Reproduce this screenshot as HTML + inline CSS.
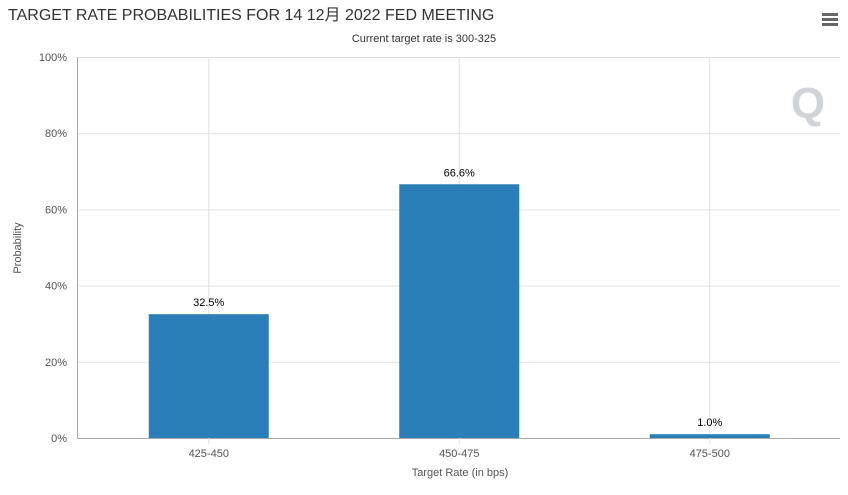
<!DOCTYPE html>
<html><head><meta charset="utf-8"><style>
body{margin:0;background:#fff;width:848px;height:490px;overflow:hidden;font-family:"Liberation Sans","Noto Sans CJK SC",sans-serif}
svg text{font-family:"Liberation Sans","Noto Sans CJK SC",sans-serif}
</style></head><body>
<svg id="c" width="848" height="490">
<text x="8" y="20" font-size="16" fill="#333">TARGET RATE PROBABILITIES FOR 14 12月 2022 FED MEETING</text>
<text x="424" y="42" font-size="11" fill="#333" text-anchor="middle">Current target rate is 300-325</text>
<g><rect x="822" y="13" width="16" height="3" fill="#666"/><rect x="822" y="18" width="16" height="3" fill="#666"/><rect x="822" y="23" width="16" height="3" fill="#666"/></g>
<g id="grid"></g>
<text x="808" y="118" font-size="44" font-weight="bold" fill="#d0d4d8" text-anchor="middle">Q</text>
<g id="bars"></g>
<text transform="translate(21,248) rotate(-90)" font-size="11" fill="#555" text-anchor="middle">Probability</text>
<text x="460" y="476" font-size="11" fill="#555" text-anchor="middle">Target Rate (in bps)</text>
</svg>
<script>
const categories=["425-450","450-475","475-500"];
const values=[32.5,66.6,1.0];
const yTicks=[0,20,40,60,80,100];
const L=77,R=840,T=57,B=438,c0=83.5,cw=250.5;
const y=v=>B-(v/100)*(B-T);
const x=i=>c0+cw*(i+0.5);
const NS="http://www.w3.org/2000/svg";
function mk(t,a,p){const e=document.createElementNS(NS,t);for(const k in a)e.setAttribute(k,a[k]);p.appendChild(e);return e;}
const g=document.getElementById('grid'),b=document.getElementById('bars');
yTicks.forEach(v=>{
 const l=mk('line',{x1:L,x2:R,y1:y(v)+0.5,y2:y(v)+0.5,stroke:v===0?'#aaa':'#e0e0e0'},g);
 
 
 const t=mk('text',{x:L-10,y:y(v)+4,'font-size':11,fill:'#555','text-anchor':'end'},g);t.textContent=v+'%';
 
 
});
categories.forEach((c,i)=>{
 const l=mk('line',{x1:x(i),x2:x(i),y1:T,y2:B+6,stroke:'#e0e0e0'},g);
 
 
 const t=mk('text',{x:x(i),y:B+19,'font-size':11,fill:'#555','text-anchor':'middle'},g);t.textContent=c;
 
 
});
const ax=mk('line',{x1:L+0.5,x2:L+0.5,y1:T,y2:B,stroke:'#aaa'},g);


values.forEach((v,i)=>{
 const r=mk('rect',{x:x(i)-60,y:y(v),width:120,height:B-y(v),fill:'#2a7fb8'},b);
 
 
 const t=mk('text',{x:x(i),y:y(v)-8,'font-size':11,fill:'#000','text-anchor':'middle'},b);t.textContent=v.toFixed(1)+'%';
 
 
});
</script>
</body></html>
